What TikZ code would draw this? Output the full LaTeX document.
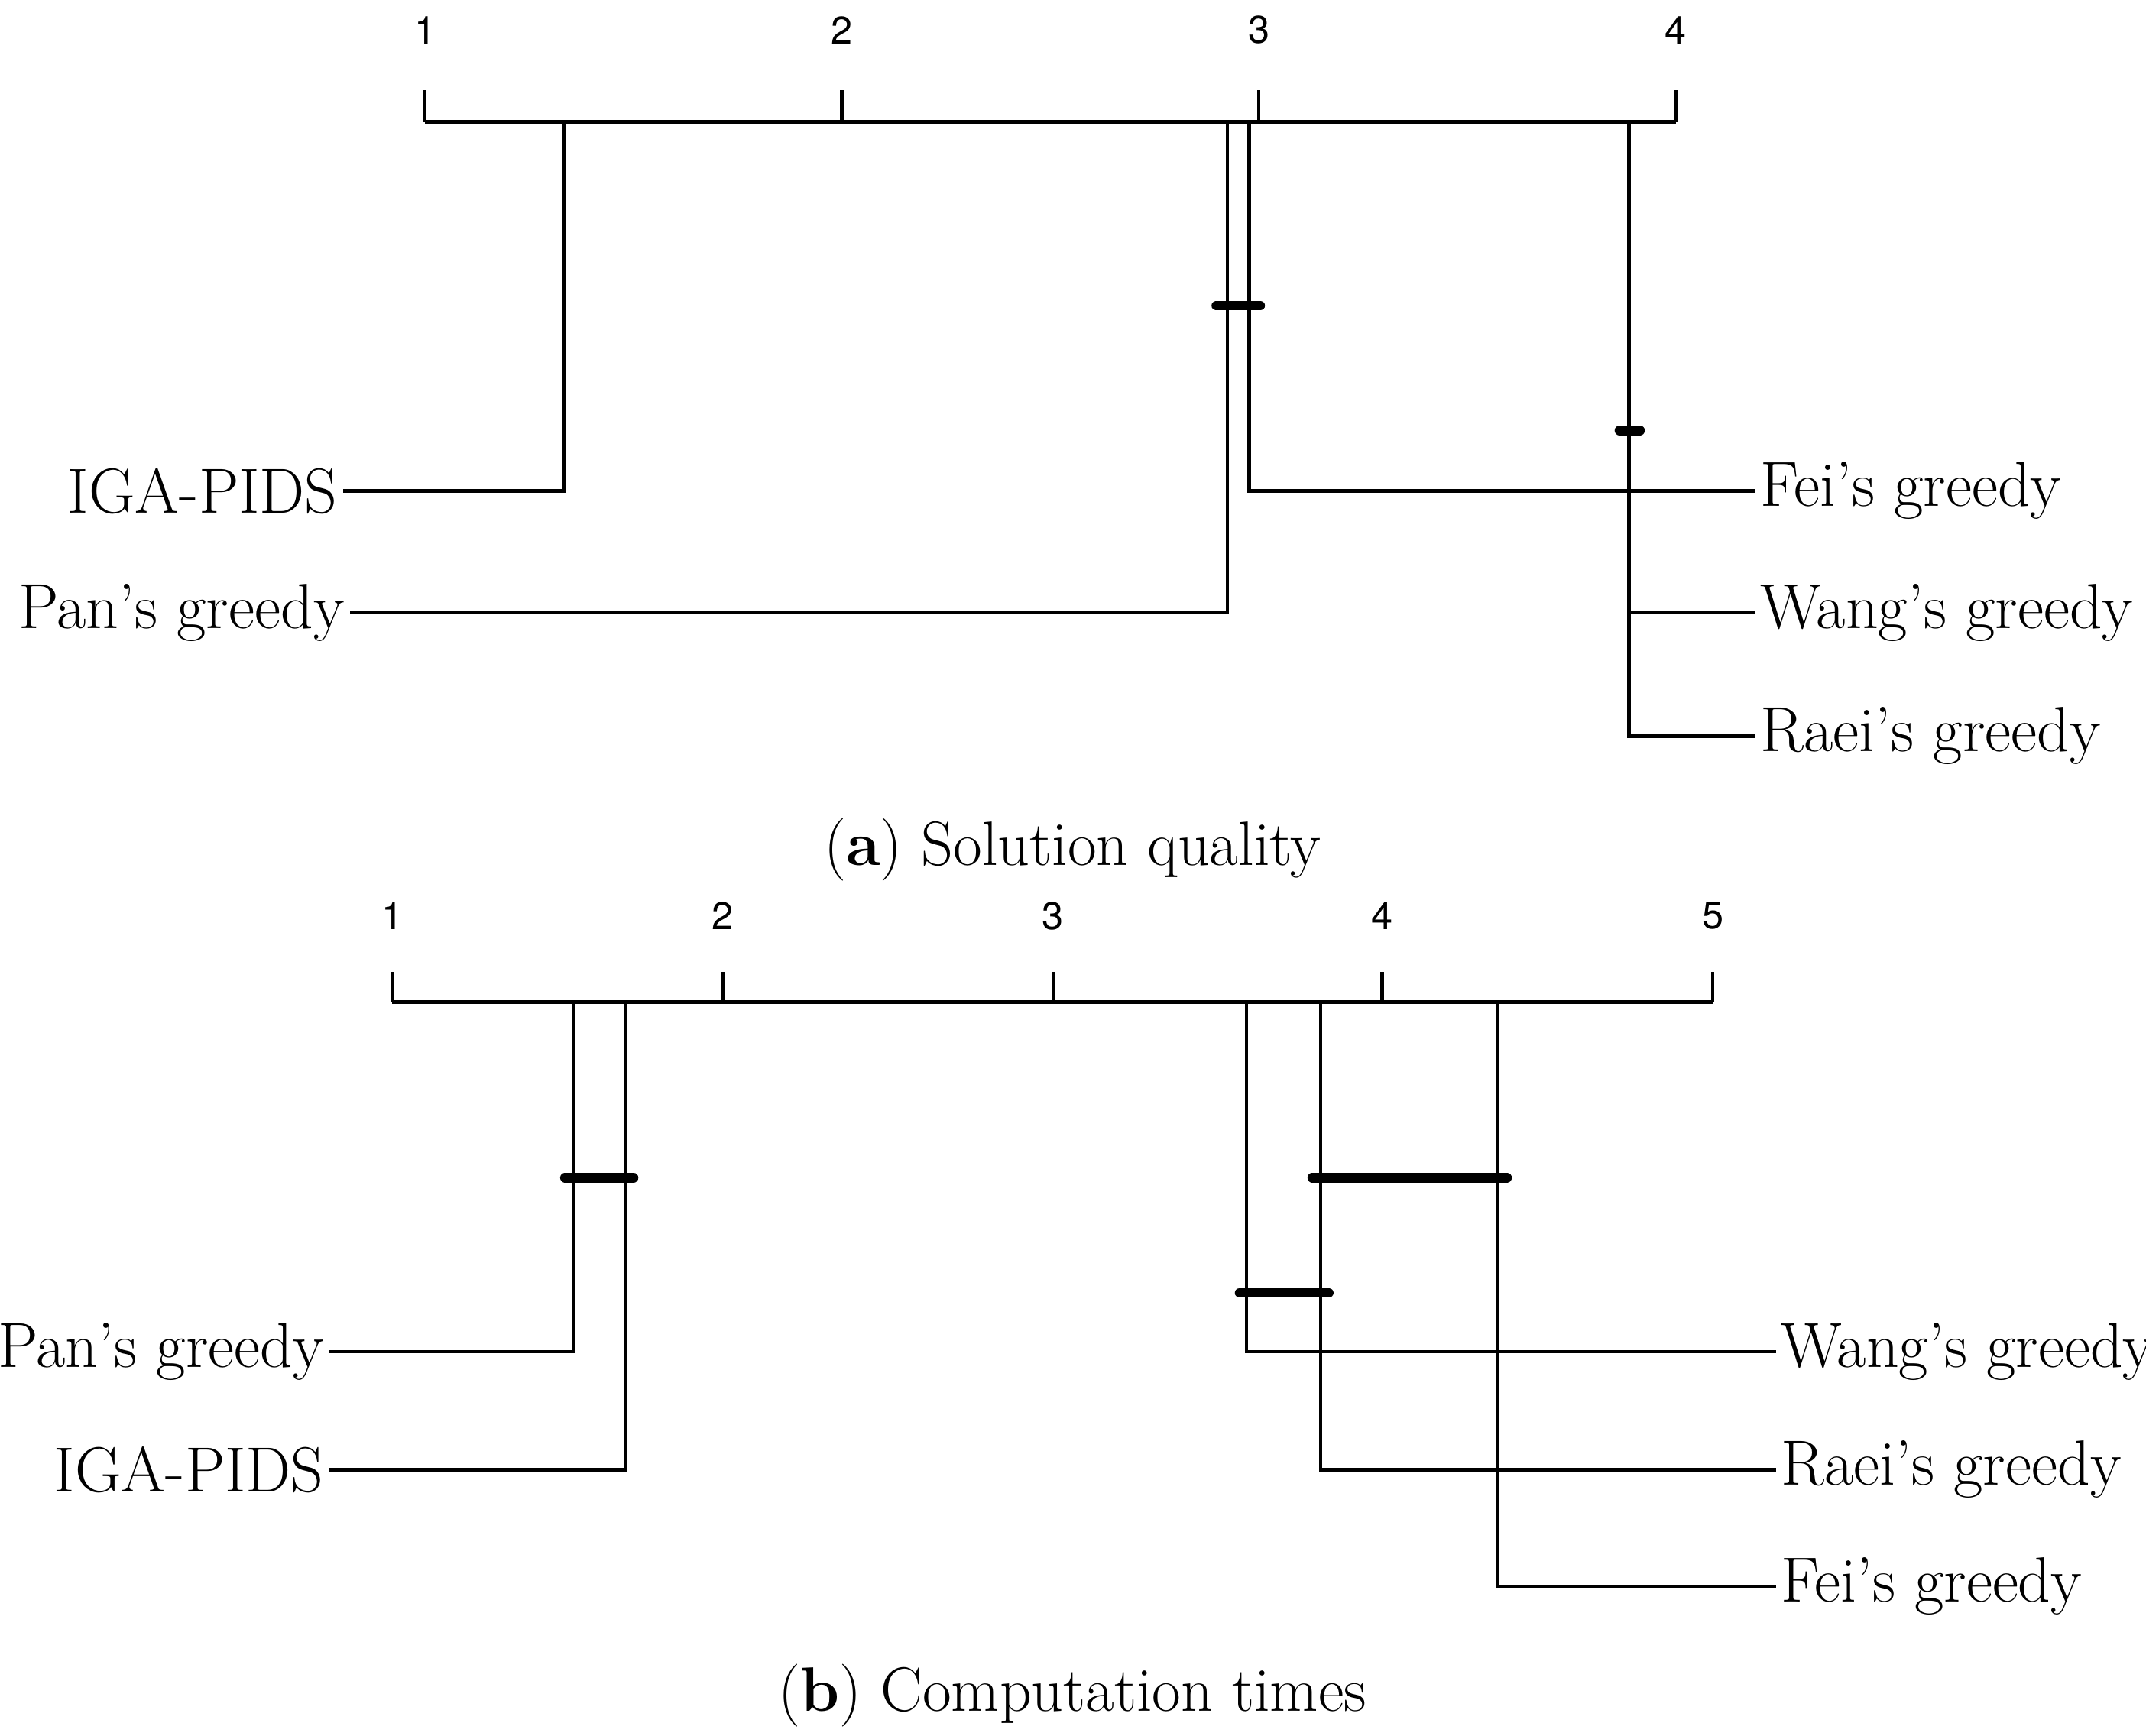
\documentclass[tikz,border=0pt]{standalone}
\usepackage{fontspec}
\newfontfamily\heros{TeX Gyre Heros}
\begin{document}
\begin{tikzpicture}[x=0.02cm,y=-0.02cm,
  ln/.style={line width=1.4pt},
  bar/.style={line width=4pt,line cap=round},
  tk/.style={font=\heros\fontsize{16}{18}\selectfont},
  lb/.style={font=\fontsize{26.5}{30}\selectfont,inner sep=2pt},
  captxt/.style={font=\fontsize{26}{30}\selectfont}]
\useasboundingbox (0,0) rectangle (1565,1266);
% ---- (a)
\draw[ln] (310,89) -- (1222,89);
\foreach \i/\x in {1/310,2/614,3/918,4/1222}{
  \draw[ln] (\x,66) -- (\x,89);
  \node[tk] (ta\i) at (\x,22) {\i};}
\node[lb,anchor=east] (a1) at (250,358) {IGA-PIDS};
\node[lb,anchor=east] (a2) at (255,447) {Pan's greedy};
\node[lb,anchor=west] (a3) at (1280,358) {Fei's greedy};
\node[lb,anchor=west] (a4) at (1280,447) {Wang's greedy};
\node[lb,anchor=west] (a5) at (1280,537) {Raei's greedy};
\draw[ln] (411,89) |- (a1.east);
\draw[ln] (895,89) |- (a2.east);
\draw[ln] (911,89) |- (a3.west);
\draw[ln] (1188,89) |- (a4.west);
\draw[ln] (1188,89) |- (a5.west);
\draw[bar] (887,223) -- (919,223);
\draw[bar] (1181,314) -- (1196,314);
\node[captxt] (ca) at (782,620) {(\textbf{a}) Solution quality};
% ---- (b)
\draw[ln] (286,731) -- (1249,731);
\foreach \i/\x in {1/286,2/527,3/768,4/1008,5/1249}{
  \draw[ln] (\x,709) -- (\x,731);
  \node[tk] (tb\i) at (\x,668) {\i};}
\node[lb,anchor=east] (b1) at (240,986) {Pan's greedy};
\node[lb,anchor=east] (b2) at (240,1072) {IGA-PIDS};
\node[lb,anchor=west] (b3) at (1295,986) {Wang's greedy};
\node[lb,anchor=west] (b4) at (1295,1072) {Raei's greedy};
\node[lb,anchor=west] (b5) at (1295,1157) {Fei's greedy};
\draw[ln] (418,731) |- (b1.east);
\draw[ln] (456,731) |- (b2.east);
\draw[ln] (909,731) |- (b3.west);
\draw[ln] (963,731) |- (b4.west);
\draw[ln] (1092,731) |- (b5.west);
\draw[bar] (412,859) -- (462,859);
\draw[bar] (957,859) -- (1099,859);
\draw[bar] (904,943) -- (969,943);
\node[captxt] (cb) at (782,1237) {(\textbf{b}) Computation times};
\end{tikzpicture}
\end{document}
